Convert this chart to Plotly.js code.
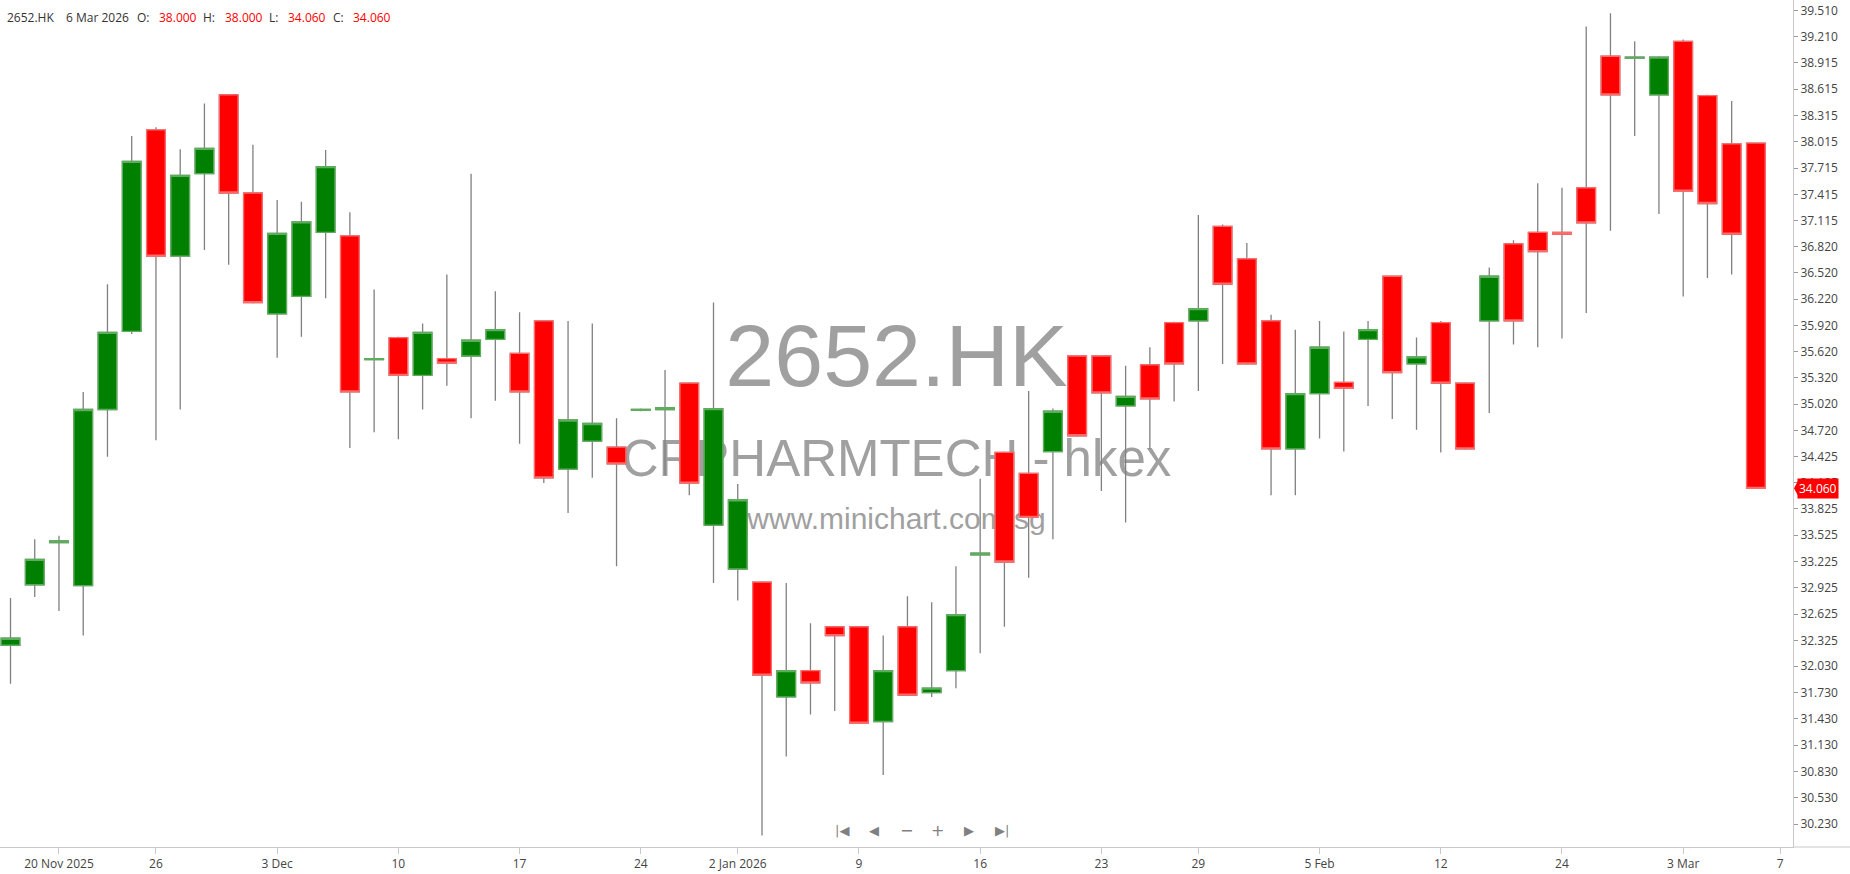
<!DOCTYPE html>
<html><head><meta charset="utf-8">
<script src="https://cdn.plot.ly/plotly-3.0.1.min.js"></script>
<style>html,body{margin:0;padding:0;background:#fff;overflow:hidden}#chart{width:1850px;height:874px}</style>
</head><body><div id="chart"></div>
<script>
const dates = ['2025-11-18','2025-11-19','2025-11-20','2025-11-21','2025-11-24','2025-11-25','2025-11-26','2025-11-27','2025-11-28',
 '2025-12-01','2025-12-02','2025-12-03','2025-12-04','2025-12-05','2025-12-08','2025-12-09','2025-12-10','2025-12-11','2025-12-12',
 '2025-12-15','2025-12-16','2025-12-17','2025-12-18','2025-12-19','2025-12-22','2025-12-23','2025-12-24','2025-12-29','2025-12-30','2025-12-31',
 '2026-01-02','2026-01-05','2026-01-06','2026-01-07','2026-01-08','2026-01-09','2026-01-12','2026-01-13','2026-01-14','2026-01-15','2026-01-16',
 '2026-01-19','2026-01-20','2026-01-21','2026-01-22','2026-01-23','2026-01-26','2026-01-27','2026-01-28','2026-01-29','2026-01-30',
 '2026-02-02','2026-02-03','2026-02-04','2026-02-05','2026-02-06','2026-02-09','2026-02-10','2026-02-11','2026-02-12','2026-02-13',
 '2026-02-16','2026-02-20','2026-02-23','2026-02-24','2026-02-25','2026-02-26','2026-02-27',
 '2026-03-02','2026-03-03','2026-03-04','2026-03-05','2026-03-06'];
const open  = [32.27,32.96,33.44,32.95,34.96,35.85,38.15,36.71,37.65,38.55,37.43,36.05,36.25,36.98,36.94,35.53,35.78,35.35,35.54,
 35.57,35.76,35.60,35.97,34.28,34.60,34.53,34.95,34.96,35.26,33.64,33.14,32.99,31.68,31.98,32.48,32.48,31.40,32.48,31.73,31.98,33.30,
 34.47,34.23,34.48,35.57,35.57,35.00,35.47,35.95,35.97,37.05,36.68,35.97,34.51,35.14,35.27,35.76,36.48,35.48,35.95,35.26,
 35.97,36.85,36.98,36.98,37.49,38.99,38.97,38.55,39.16,38.54,37.99,38.00];
const high  = [32.81,33.48,33.52,35.16,36.39,38.08,38.18,37.93,38.45,38.56,37.98,37.35,37.33,37.92,37.21,36.33,35.79,35.94,36.50,
 37.65,36.31,36.07,35.98,35.97,35.94,34.86,34.97,35.41,35.27,36.18,34.11,33.00,32.98,32.52,32.49,32.49,32.38,32.83,32.76,33.17,34.17,
 34.48,35.17,34.97,35.58,35.58,35.46,35.67,35.96,37.18,37.07,36.86,36.04,35.87,35.97,35.85,35.97,36.49,35.78,35.97,35.27,
 36.58,36.89,37.54,37.49,39.33,39.48,39.16,38.99,39.18,38.55,38.48,38.00];
const low   = [31.83,32.82,32.66,32.38,34.42,35.82,34.61,34.96,36.78,36.61,36.17,35.55,35.79,36.23,34.52,34.70,34.62,34.96,35.23,
 34.86,35.06,34.57,34.12,33.78,34.18,33.17,34.94,34.21,33.98,32.98,32.78,30.10,31.00,31.48,31.52,31.37,30.79,31.69,31.68,31.78,32.18,
 32.48,33.04,33.48,34.65,34.03,33.67,34.51,35.05,35.17,35.48,35.47,33.98,33.98,34.63,34.48,35.00,34.85,34.73,34.47,34.50,
 34.92,35.70,35.67,35.77,36.06,37.00,38.08,37.19,36.25,36.46,36.50,34.06];
const close = [32.35,33.25,33.46,34.96,35.84,37.79,36.71,37.63,37.94,37.43,36.18,36.97,37.10,37.73,35.16,35.54,35.35,35.84,35.49,
 35.75,35.87,35.16,34.18,34.84,34.80,34.34,34.96,34.98,34.12,34.97,33.93,31.93,31.98,31.84,32.38,31.38,31.98,31.70,31.78,32.62,33.32,
 33.22,33.73,34.94,34.66,35.15,35.11,35.08,35.48,36.11,36.39,35.48,34.51,35.14,35.67,35.20,35.87,35.38,35.56,35.26,34.51,
 36.48,35.97,36.76,36.96,37.09,38.55,38.98,38.98,37.45,37.31,36.96,34.06];
const xTickDates = ['2025-11-20','2025-11-26','2025-12-03','2025-12-10','2025-12-17','2025-12-24','2026-01-02','2026-01-09',
 '2026-01-16','2026-01-23','2026-01-29','2026-02-05','2026-02-12','2026-02-24','2026-03-03','2026-03-09'];
const xTickText = ['20 Nov 2025','26','3 Dec','10','17','24','2 Jan 2026','9','16','23','29','5 Feb','12','24','3 Mar','7'];
const yTickText = ['39.510','39.210','38.915','38.615','38.315','38.015','37.715','37.415','37.115','36.820','36.520','36.220',
 '35.920','35.620','35.320','35.020','34.720','34.425','34.125','33.825','33.525','33.225','32.925','32.625','32.325','32.030',
 '31.730','31.430','31.130','30.830','30.530','30.230'];
const symbol = '2652.HK';
const company = 'CRPHARMTECH - hkex';
const site = 'www.minichart.com.sg';
const lastDateLabel = '6 Mar 2026';

const idx = dates.map((d, i) => i);
const xTickVals = xTickDates.map(d => { const k = dates.indexOf(d); return k >= 0 ? k : dates.length; });
const yTickVals = yTickText.map(Number);
const bodyHigh = open.map((o, i) => Math.max(o, close[i]));
const bodyLow = open.map((o, i) => Math.min(o, close[i]));
const n = dates.length;
const last = n - 1;

const PW = 1793, PH = 847;
const px = v => v / PW;
const py = v => (PH - v) / PH;

const yRange = [29.968, 39.632];
const tagColor = close[last] < open[last] ? '#ff0000' : '#008000';

const traces = [
  { type: 'scatter', mode: 'text', xaxis: 'x', yaxis: 'y', hoverinfo: 'skip',
    x: [0.5, 0.5, 0.5], y: [py(364), py(463), py(521)],
    text: [symbol, company, site], textposition: 'middle center',
    textfont: { family: 'Liberation Sans, Arial, sans-serif', size: [88, 51, 30], color: '#a0a0a0' } },
  { type: 'candlestick', xaxis: 'x2', yaxis: 'y2', x: idx, open: open, high: high, low: low, close: close,
    hoverinfo: 'none', whiskerwidth: 0, line: { width: 1.3 },
    increasing: { line: { color: '#808080' }, fillcolor: '#008000' },
    decreasing: { line: { color: '#808080' }, fillcolor: '#ff0000' } },
  { type: 'candlestick', xaxis: 'x2', yaxis: 'y2', x: idx, open: open, high: bodyHigh, low: bodyLow, close: close,
    hoverinfo: 'none', whiskerwidth: 0, line: { width: 1.3 },
    increasing: { line: { color: '#5cae5c' }, fillcolor: '#008000' },
    decreasing: { line: { color: '#ff6a6a' }, fillcolor: '#ff0000' } }
];

const hdrFont = { family: 'Open Sans, sans-serif', size: 12, color: '#333' };
const redFont = { family: 'Open Sans, sans-serif', size: 12, color: '#ff0000' };
const hdr = [
  [7, symbol, hdrFont], [66, lastDateLabel, hdrFont],
  [137, 'O:', hdrFont], [159, open[last].toFixed(3), redFont],
  [203, 'H:', hdrFont], [225, high[last].toFixed(3), redFont],
  [269, 'L:', hdrFont], [288, low[last].toFixed(3), redFont],
  [333, 'C:', hdrFont], [353, close[last].toFixed(3), redFont]
];
const annotations = hdr.map(h => ({ xref: 'paper', yref: 'paper', x: px(h[0] - 2), y: py(18), xanchor: 'left', yanchor: 'middle',
  text: h[1], showarrow: false, font: h[2] }));

const navFont = { family: 'DejaVu Sans, sans-serif', size: 13, color: '#808080' };
const nav = [[842, '|◀'], [874, '◀'], [906, '−'], [937, '+'], [969, '▶'], [1002, '▶|']];
nav.forEach(nv => annotations.push({ xref: 'paper', yref: 'paper', x: px(nv[0]), y: py(830), xanchor: 'center', yanchor: 'middle',
  text: nv[1], showarrow: false, font: Object.assign({}, navFont, nv[1] === '+' || nv[1] === '−' ? { size: 16 } : {}) }));

annotations.push({ xref: 'paper', yref: 'y2', x: 1, xshift: 4, y: close[last], xanchor: 'left', yanchor: 'middle',
  text: close[last].toFixed(3), showarrow: false, bgcolor: tagColor, borderpad: 1,
  font: { family: 'Open Sans, sans-serif', size: 12, color: '#ffffff' } });

const dy = 7.5 / 87.64;
const shapes = [
  { type: 'path', xref: 'paper', yref: 'y2', layer: 'above', line: { width: 0 }, fillcolor: tagColor,
    path: `M ${1 + 1 / PW},${close[last]} L ${1 + 5 / PW},${close[last] + dy} L ${1 + 5 / PW},${close[last] - dy} Z` },
  { type: 'line', xref: 'paper', yref: 'paper', x0: 1, x1: 1850 / PW, y0: 0, y1: 0, line: { color: '#c8c8c8', width: 1 } }
];

const tickFont = { family: 'Open Sans, sans-serif', size: 12, color: '#444' };
const layout = {
  width: 1850, height: 874, margin: { l: 0, r: 57, t: 0, b: 27 },
  paper_bgcolor: '#ffffff', plot_bgcolor: '#ffffff', showlegend: false,
  boxmode: 'overlay', boxgap: 0.23, boxgroupgap: 0,
  xaxis: { range: [0, 1], visible: false, fixedrange: true },
  yaxis: { range: [0, 1], visible: false, fixedrange: true },
  xaxis2: { overlaying: 'x', anchor: 'y2', side: 'bottom', range: [-0.433, n + 0.53], tickmode: 'array',
    tickvals: xTickVals, ticktext: xTickText, ticks: 'outside', ticklen: 6, tickcolor: '#c8c8c8',
    showline: true, linecolor: '#c8c8c8', linewidth: 1, showgrid: false, zeroline: false,
    rangeslider: { visible: false }, tickfont: tickFont, fixedrange: true },
  yaxis2: { overlaying: 'y', anchor: 'x2', side: 'right', range: yRange, tickmode: 'array',
    tickvals: yTickVals, ticktext: yTickText, ticks: 'outside', ticklen: 4, tickcolor: '#999',
    showline: true, linecolor: '#c8c8c8', linewidth: 1, showgrid: false, zeroline: false,
    tickfont: tickFont, fixedrange: true },
  annotations: annotations, shapes: shapes
};
Plotly.newPlot('chart', traces, layout, { displayModeBar: false, staticPlot: true });
</script></body></html>
